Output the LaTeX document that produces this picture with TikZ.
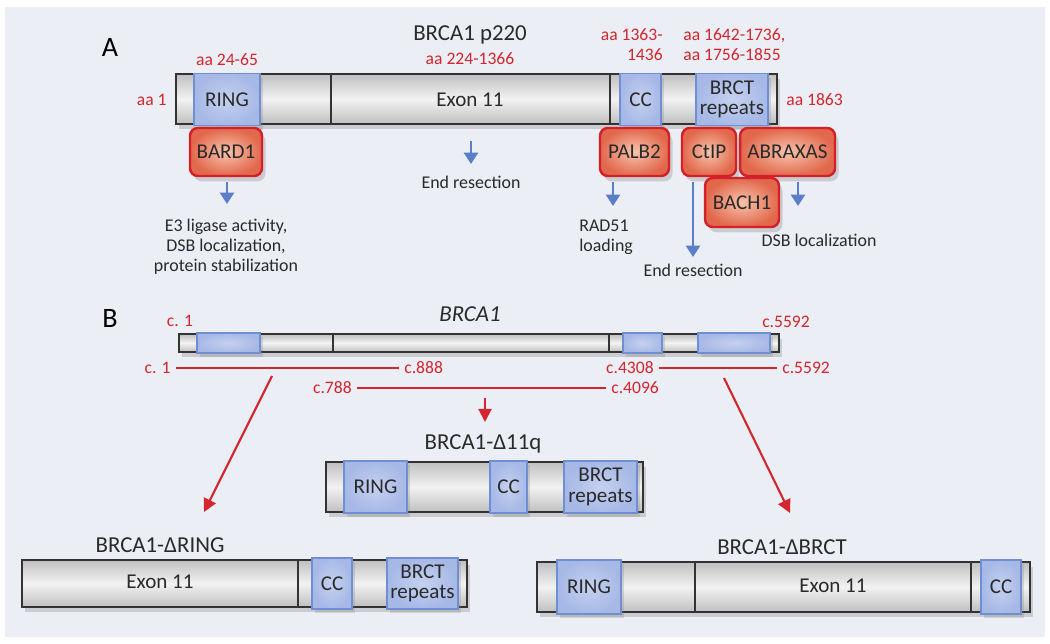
\documentclass[tikz,border=0pt]{standalone}
\usepackage{fontspec}
\setmainfont{Carlito}
\usepackage{xcolor}
\usetikzlibrary{arrows.meta,shadows}
\definecolor{bgc}{HTML}{EBEEF5}
\definecolor{redt}{HTML}{D3262E}
\definecolor{blu}{HTML}{5A7EC7}
\definecolor{domf}{HTML}{A6B8E6}
\definecolor{doml}{HTML}{6F8FD2}
\definecolor{protr}{HTML}{D42129}
\definecolor{proti}{HTML}{F7C4AD}
\definecolor{proto}{HTML}{E2684C}
\definecolor{txt}{HTML}{2A2A2A}

\tikzset{
  bar/.style={draw=black!80, line width=1.1pt, top color=black!25, bottom color=black!25, middle color=black!5, inner sep=0pt,
    drop shadow={opacity=0.3, shadow xshift=1.5pt, shadow yshift=-3pt}},
  dom/.style={draw=doml, line width=0.9pt, inner color=domf!65!white, outer color=domf, inner sep=0pt, align=center,
    text=txt, font=\fontsize{12}{11.6}\selectfont, drop shadow={opacity=0.25, shadow xshift=1.5pt, shadow yshift=-2.5pt}},
  prot/.style={draw=protr, line width=1.4pt, rounded corners=4.5pt, inner color=proti, outer color=proto, inner sep=0pt,
    minimum height=0.96cm, text=txt, font=\fontsize{12}{13}\selectfont, drop shadow={opacity=0.3, shadow xshift=2pt, shadow yshift=-3pt}},
  aa/.style={text=redt, inner sep=0pt, font=\fontsize{10}{11.4}\selectfont},
  fn/.style={text=txt, inner sep=0pt, align=center, font=\fontsize{10.2}{11.4}\selectfont},
  lbl/.style={text=txt, inner sep=0pt, font=\fontsize{12}{13}\selectfont},
  ttl/.style={text=txt, inner sep=0pt, font=\fontsize{13}{14}\selectfont},
  panel/.style={text=black, inner sep=0pt, font=\fontsize{16}{18}\selectfont},
  sep/.style={draw=black!80, line width=1pt},
  barrow/.style={draw=blu, line width=1.4pt, -{Triangle[width=8pt,length=6.5pt]}},
  rarrow/.style={draw=redt, line width=1.2pt, -{Triangle[width=7.5pt,length=7.5pt]}},
  rline/.style={draw=redt, line width=1.3pt, shorten <=3pt, shorten >=3pt},
}

\begin{document}
\begin{tikzpicture}[x=0.02cm, y=-0.02cm]
  \useasboundingbox (0,0) rectangle (1050,644);
  \fill[bgc] (5,7) rectangle (1045,637);

  % A: BRCA1 p220
  \node[panel] (labA) at (110,47) {A};
  \node[ttl] (pA) at (470,35) {BRCA1 p220};
  \node[aa] (aaEx) at (470,59) {aa 224-1366};
  \node[aa] (aaR) at (227,60) {aa 24-65};
  \node[aa, anchor=east] (aa1) at (167,100) {aa 1};
  \node[aa, anchor=east, align=right] (aaCC) at (663,45) {aa 1363-\\1436};
  \node[aa, anchor=west, align=left] (aaBR) at (683,45) {aa 1642-1736,\\aa 1756-1855};
  \node[aa, anchor=west] (aaEnd) at (786,100) {aa 1863};

  \node[bar, minimum width=12.02cm, minimum height=1cm] (barA) at (476.5,99) {};
  \draw[sep] (331,74) -- (331,124);
  \draw[sep] (610,74) -- (610,124);
  \node[lbl] (exA) at (470,100) {Exon 11};
  \node[dom, minimum width=1.32cm, minimum height=1.04cm] (ringA) at (227,99.5) {RING};
  \node[dom, minimum width=0.82cm, minimum height=1.04cm] (ccA) at (640.5,99.5) {CC};
  \node[dom, minimum width=1.44cm, minimum height=1.04cm] (brctA) at (732,99.5) {BRCT\\repeats};

  \node[prot, minimum width=1.44cm] (bard1) at (226,152) {BARD1};
  \node[prot, minimum width=1.38cm] (palb2) at (634.5,152) {PALB2};
  \node[prot, minimum width=1.08cm] (ctip) at (709,152) {CtIP};
  \node[prot, minimum width=1.9cm] (abraxas) at (787.5,152) {ABRAXAS};
  \node[prot, minimum width=1.48cm, minimum height=0.98cm] (bach1) at (742,202.5) {BACH1};

  \node[fn] (fn1) at (226,247) {E3 ligase activity,\\DSB localization,\\protein stabilization};
  \node[fn] (er1) at (471,182) {End resection};
  \node[fn, anchor=west, align=left] (rad51) at (579,237) {RAD51\\loading};
  \node[fn] (er2) at (693,270) {End resection};
  \node[fn] (dsb) at (819,240) {DSB localization};

  \coordinate (t1) at (227,204);
  \coordinate (t2) at (471,164);
  \coordinate (t3) at (613,206);
  \coordinate (t4) at (693,257);
  \coordinate (t5) at (798,206);
  \draw[barrow, shorten <=2.5pt] (bard1.south -| t1) -- (t1);
  \draw[barrow, shorten <=9pt] (barA.south -| t2) -- (t2);
  \draw[barrow, shorten <=3pt] (palb2.south -| t3) -- (t3);
  \draw[barrow, shorten <=3pt] (ctip.south -| t4) -- (t4);
  \draw[barrow, shorten <=3pt] (abraxas.south -| t5) -- (t5);

  % B: BRCA1 gene and the three isoforms
  \node[panel] (labB) at (110,318) {B};
  \node[ttl, font=\fontsize{13}{14}\selectfont\itshape] (gB) at (470,314) {BRCA1};
  \node[aa] (c1t) at (180,321) {c. 1};
  \node[aa] (c5592t) at (786,322) {c.5592};

  \node[bar, minimum width=12cm, minimum height=0.36cm] (barB) at (479,343) {};
  \draw[sep] (333,334) -- (333,352);
  \draw[sep] (609,334) -- (609,352);
  \node[dom, minimum width=1.26cm, minimum height=0.4cm] (ringB) at (228.5,343) {};
  \node[dom, minimum width=0.78cm, minimum height=0.4cm] (ccB) at (642.5,343) {};
  \node[dom, minimum width=1.44cm, minimum height=0.4cm] (brctB) at (734,343) {};

  \node[aa, anchor=east] (c1) at (171,368) {c. 1};
  \node[aa, anchor=west] (c888) at (404,368) {c.888};
  \node[aa, anchor=east] (c788) at (352,388) {c.788};
  \node[aa, anchor=west] (c4096) at (611,388) {c.4096};
  \node[aa, anchor=east] (c4308) at (654,368) {c.4308};
  \node[aa, anchor=west] (c5592) at (782,368) {c.5592};
  \draw[rline] (c1.east) -- (c888.west);
  \draw[rline] (c788.east) -- (c4096.west);
  \draw[rline] (c4308.east) -- (c5592.west);

  \coordinate (la1) at (272,376);
  \coordinate (la2) at (204,512);
  \coordinate (ma1) at (485,398);
  \coordinate (ma2) at (485,422);
  \coordinate (ra1) at (724,378);
  \coordinate (ra2) at (790,513);
  \draw[rarrow] (la1) -- (la2);
  \draw[rarrow] (ma1) -- (ma2);
  \draw[rarrow] (ra1) -- (ra2);

  % BRCA1-D11q
  \node[ttl] (t11q) at (483,444) {BRCA1-Δ11q};
  \node[bar, minimum width=6.34cm, minimum height=1cm] (bar11q) at (484.5,487) {};
  \node[dom, minimum width=1.26cm, minimum height=1.04cm] (ring11q) at (375.5,487) {RING};
  \node[dom, minimum width=0.74cm, minimum height=1.04cm] (cc11q) at (508.5,487) {CC};
  \node[dom, minimum width=1.46cm, minimum height=1.04cm] (brct11q) at (600.5,487) {BRCT\\repeats};

  % BRCA1-DRING
  \node[ttl] (tRING) at (160,545) {BRCA1-ΔRING};
  \node[bar, minimum width=8.9cm, minimum height=0.94cm] (barR) at (244.5,583.5) {};
  \draw[sep] (298,560) -- (298,607);
  \node[lbl] (exR) at (160,582) {Exon 11};
  \node[dom, minimum width=0.8cm, minimum height=1.02cm] (ccR) at (332,583.5) {CC};
  \node[dom, minimum width=1.42cm, minimum height=1.02cm] (brctR) at (422.5,583.5) {BRCT\\repeats};

  % BRCA1-DBRCT
  \node[ttl] (tBRCT) at (782,547) {BRCA1-ΔBRCT};
  \node[bar, minimum width=9.86cm, minimum height=1cm] (barBR) at (783.5,587) {};
  \draw[sep] (695,562) -- (695,612);
  \draw[sep] (971,562) -- (971,612);
  \node[lbl] (exBR) at (833,586) {Exon 11};
  \node[dom, minimum width=1.28cm, minimum height=1.08cm] (ringBR) at (589,587) {RING};
  \node[dom, minimum width=0.8cm, minimum height=1.08cm] (ccBR) at (1001,587) {CC};
\end{tikzpicture}
\end{document}
